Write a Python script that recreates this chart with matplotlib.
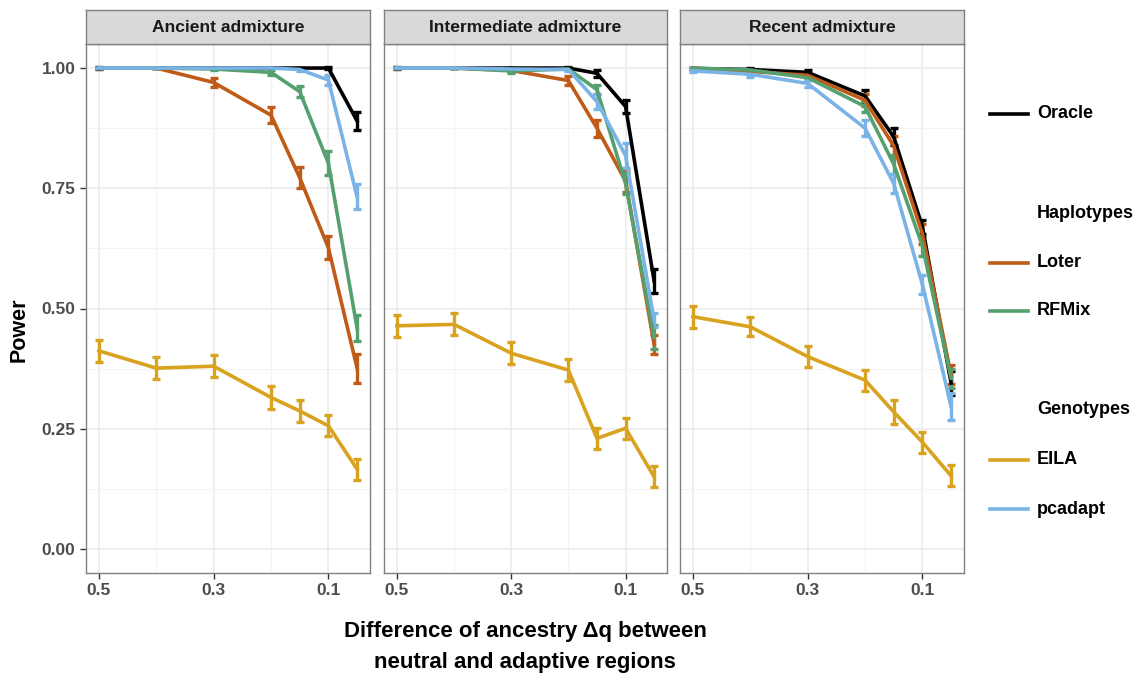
import matplotlib
matplotlib.use("Agg")
import matplotlib.pyplot as plt
from matplotlib.lines import Line2D
import numpy as np

plt.rcParams['font.family'] = ['Liberation Sans', 'DejaVu Sans']

# ---------------- data ----------------
delta_q = [0.5, 0.4, 0.3, 0.2, 0.15, 0.1, 0.05]
x_ticks = [0.5, 0.3, 0.1]
x_tick_labels = ["0.5", "0.3", "0.1"]
y_ticks = [0.0, 0.25, 0.5, 0.75, 1.0]
y_tick_labels = ["0.00", "0.25", "0.50", "0.75", "1.00"]

panels = ["Ancient admixture", "Intermediate admixture", "Recent admixture"]
methods = ["Oracle", "Loter", "RFMix", "EILA", "pcadapt"]
colors = {"Oracle": "#000000", "Loter": "#c05b17", "RFMix": "#56a070",
          "EILA": "#d9a21f", "pcadapt": "#7ab4e6"}

# Ancient
anc_oracle = [1.0, 1.0, 1.0, 1.0, 1.0, 1.0, 0.890]
anc_oracle_err = [0.002, 0.0, 0.0, 0.0, 0.0, 0.002, 0.018]
anc_loter = [1.0, 1.0, 0.970, 0.902, 0.772, 0.626, 0.376]
anc_loter_err = [0.0, 0.0, 0.010, 0.016, 0.022, 0.024, 0.030]
anc_rfmix = [1.0, 1.0, 0.998, 0.991, 0.951, 0.802, 0.459]
anc_rfmix_err = [0.0, 0.0, 0.002, 0.005, 0.012, 0.025, 0.027]
anc_eila = [0.412, 0.376, 0.380, 0.315, 0.287, 0.256, 0.166]
anc_eila_err = [0.023, 0.023, 0.023, 0.023, 0.022, 0.022, 0.022]
anc_pcadapt = [1.0, 1.0, 1.0, 1.0, 0.997, 0.975, 0.732]
anc_pcadapt_err = [0.0, 0.0, 0.0, 0.0, 0.004, 0.010, 0.026]

# Intermediate
int_oracle = [1.0, 1.0, 1.0, 1.0, 0.989, 0.920, 0.557]
int_oracle_err = [0.002, 0.0, 0.0, 0.002, 0.007, 0.014, 0.025]
int_loter = [1.0, 1.0, 0.995, 0.974, 0.875, 0.765, 0.425]
int_loter_err = [0.0, 0.0, 0.003, 0.010, 0.018, 0.022, 0.020]
int_rfmix = [1.0, 1.0, 0.994, 0.998, 0.955, 0.760, 0.440]
int_rfmix_err = [0.0, 0.0, 0.004, 0.002, 0.010, 0.022, 0.025]
int_eila = [0.464, 0.467, 0.407, 0.372, 0.230, 0.251, 0.150]
int_eila_err = [0.023, 0.023, 0.023, 0.023, 0.022, 0.022, 0.022]
int_pcadapt = [1.0, 1.0, 0.998, 0.997, 0.930, 0.818, 0.476]
int_pcadapt_err = [0.0, 0.0, 0.002, 0.003, 0.015, 0.026, 0.015]

# Recent
rec_oracle = [0.999, 0.997, 0.991, 0.942, 0.857, 0.670, 0.345]
rec_oracle_err = [0.002, 0.003, 0.005, 0.012, 0.018, 0.015, 0.025]
rec_loter = [1.0, 0.993, 0.985, 0.933, 0.838, 0.655, 0.362]
rec_loter_err = [0.0, 0.003, 0.005, 0.012, 0.020, 0.020, 0.020]
rec_rfmix = [1.0, 0.996, 0.980, 0.920, 0.800, 0.630, 0.355]
rec_rfmix_err = [0.0, 0.003, 0.005, 0.012, 0.020, 0.020, 0.020]
rec_eila = [0.483, 0.462, 0.400, 0.351, 0.285, 0.222, 0.152]
rec_eila_err = [0.023, 0.020, 0.022, 0.022, 0.025, 0.022, 0.022]
rec_pcadapt = [0.994, 0.987, 0.968, 0.875, 0.760, 0.550, 0.296]
rec_pcadapt_err = [0.003, 0.005, 0.008, 0.017, 0.020, 0.020, 0.028]

panel_data = [
    {"Oracle": (anc_oracle, anc_oracle_err), "Loter": (anc_loter, anc_loter_err),
     "RFMix": (anc_rfmix, anc_rfmix_err), "EILA": (anc_eila, anc_eila_err),
     "pcadapt": (anc_pcadapt, anc_pcadapt_err)},
    {"Oracle": (int_oracle, int_oracle_err), "Loter": (int_loter, int_loter_err),
     "RFMix": (int_rfmix, int_rfmix_err), "EILA": (int_eila, int_eila_err),
     "pcadapt": (int_pcadapt, int_pcadapt_err)},
    {"Oracle": (rec_oracle, rec_oracle_err), "Loter": (rec_loter, rec_loter_err),
     "RFMix": (rec_rfmix, rec_rfmix_err), "EILA": (rec_eila, rec_eila_err),
     "pcadapt": (rec_pcadapt, rec_pcadapt_err)},
]

# ---------------- layout ----------------
W, H = 1137, 675
fig = plt.figure(figsize=(W / 100, H / 100), dpi=100)

def fr(x0, y0, x1, y1):
    return [x0 / W, 1 - y1 / H, (x1 - x0) / W, (y1 - y0) / H]

panel_px = [(86, 370), (384, 667), (680, 964)]
top, bottom = 44, 573
strip_top = 10

tick_color = "#4d4d4d"
border_color = "#808080"

for i, (x0, x1) in enumerate(panel_px):
    ax = fig.add_axes(fr(x0, top, x1, bottom))
    ax.set_xlim(0.5225, 0.0275)
    ax.set_ylim(-0.05, 1.05)
    ax.set_xticks(x_ticks)
    ax.set_xticks([0.4, 0.2], minor=True)
    ax.set_yticks(y_ticks)
    ax.set_yticks([0.125, 0.375, 0.625, 0.875], minor=True)
    ax.grid(True, which="major", color="#ebebeb", lw=1.1, zorder=0)
    ax.grid(True, which="minor", color="#f3f3f3", lw=0.8, zorder=0)
    ax.set_axisbelow(True)
    ax.tick_params(axis="both", which="minor", length=0)
    ax.tick_params(axis="both", which="major", length=4, color="#333333", width=1)
    ax.set_xticklabels(x_tick_labels, fontsize=12.5, fontweight="bold", color=tick_color)
    if i == 0:
        ax.set_yticklabels(y_tick_labels, fontsize=12.5, fontweight="bold", color=tick_color)
    else:
        ax.set_yticklabels([])
        ax.tick_params(axis="y", which="major", length=0)
    for s in ax.spines.values():
        s.set_color(border_color)
        s.set_linewidth(1.0)

    for m in methods:
        vals, errs = panel_data[i][m]
        ax.errorbar(delta_q, vals, yerr=errs, color=colors[m], lw=2.6,
                    elinewidth=2.4, capsize=3, capthick=2.4, zorder=3)

    sax = fig.add_axes(fr(x0, strip_top, x1, top))
    sax.set_facecolor("#d9d9d9")
    sax.set_xticks([])
    sax.set_yticks([])
    for s in sax.spines.values():
        s.set_color(border_color)
        s.set_linewidth(1.0)
    sax.text(0.5, 0.5, panels[i], ha="center", va="center", fontsize=12.6,
             fontweight="bold", color="#1a1a1a", transform=sax.transAxes)

# y label
fig.text(19 / W, 1 - 330 / H, "Power", rotation=90, ha="center", va="center",
         fontsize=15.5, fontweight="bold")

# x label
fig.text(525 / W, 1 - 647 / H, "Difference of ancestry Δq between\nneutral and adaptive regions",
         ha="center", va="center", fontsize=16, fontweight="bold", linespacing=1.6)

# legend
legend_rows = [("Oracle", 114, True), ("Haplotypes", 213, False), ("Loter", 263, True),
               ("RFMix", 311, True), ("Genotypes", 410, False), ("EILA", 460, True),
               ("pcadapt", 509, True)]
for label, ypix, has_line in legend_rows:
    yf = 1 - ypix / H
    if has_line:
        fig.add_artist(Line2D([990 / W, 1028 / W], [yf, yf], color=colors[label], lw=2.6,
                              transform=fig.transFigure))
    fig.text(1037 / W, yf, label, ha="left", va="center", fontsize=13,
             fontweight="bold", color="#000000")

fig.savefig("out.png", dpi=100)
